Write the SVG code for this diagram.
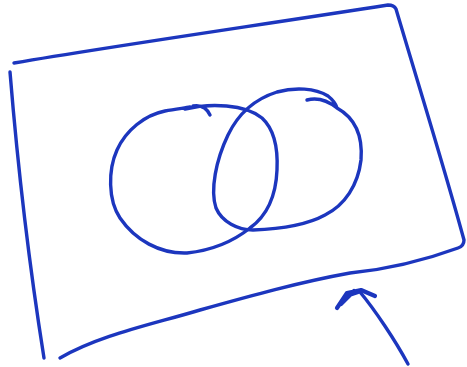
<svg xmlns="http://www.w3.org/2000/svg" width="467" height="367" viewBox="0 0 467 367">
<style>
.ink{fill:none;stroke:#1c36be;stroke-width:3.4;stroke-linecap:round;stroke-linejoin:round}
.head{stroke-width:4.2}
</style>
<rect width="467" height="367" fill="#ffffff"/>
<g id="frame">
<path class="ink" d="M14,63 C120,45 260,25 388,5 Q394,5 396,9 C420,90 445,170 464,240 Q464,246 458,248 C420,262 380,270 350,273 C300,282 250,296 200,310 C150,325 100,335 60,358"/>
<path class="ink" d="M10,72 C18,170 30,270 44,358"/>
</g>
<g id="set-a">
<path class="ink" d="M185,109 C210,103 245,104 262,118 C275,130 278,150 277,170 C276,195 268,215 250,228 C235,240 215,250 187,253 C160,254 135,240 120,218 C108,200 108,170 117,150 C126,130 145,115 165,111 C175,109 185,108 190,107 M193,106 Q205,104 210,115"/>
</g>
<g id="set-b">
<path class="ink" d="M337,108 C355,118 363,135 361,160 C358,185 345,205 325,215 C305,226 280,229 253,230 C238,230 222,222 216,208 C210,190 216,160 228,135 C240,110 258,98 277,92 C295,87 315,88 328,96 C333,100 336,104 337,108 M307,100 Q322,96 337,108"/>
</g>
<g id="connectors">
<path class="ink" d="M408,364 C395,340 375,310 360,292"/>
<path class="ink head" d="M337,308 L347,293 L361,290 L375,296 M341,304 L354,291 M349,295 L358,292"/>
</g>
</svg>
